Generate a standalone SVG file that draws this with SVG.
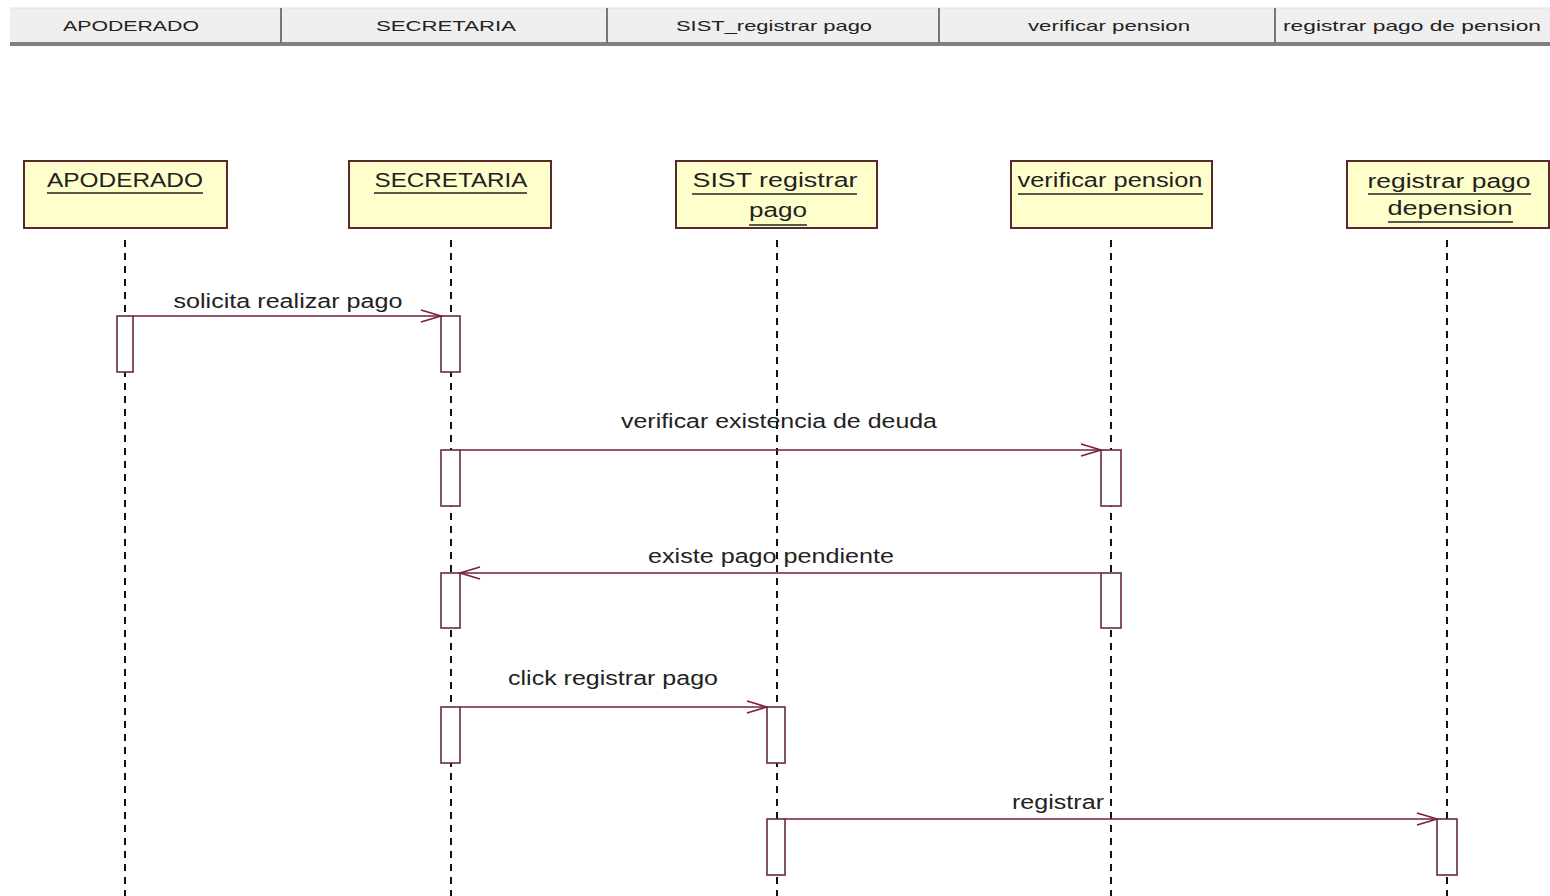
<svg xmlns="http://www.w3.org/2000/svg" width="1550" height="896" viewBox="0 0 1550 896">
<style>
.hdr{font-family:"Liberation Sans",Arial,sans-serif;font-size:15px;fill:#222;text-anchor:middle}
.obj{fill:#ffffcc;stroke:#5a2a2a;stroke-width:2}
.olbl{font-family:"Liberation Sans",Arial,sans-serif;font-size:20px;fill:#222;text-anchor:middle}
.ul{stroke:#222;stroke-width:1.5}
.life{stroke:#111;stroke-width:2;stroke-dasharray:7,6}
.act{fill:#fff;stroke:#6a2a3a;stroke-width:1.6}
.msg{stroke:#7a1f3f;stroke-width:1.6;fill:none}
.mlbl{font-family:"Liberation Sans",Arial,sans-serif;font-size:20px;fill:#222;text-anchor:middle}
</style>
<defs>
<marker id="open" markerWidth="24" markerHeight="16" refX="22" refY="8" orient="auto" markerUnits="userSpaceOnUse">
<path d="M2,2 L22,8 L2,14" fill="none" stroke="#7a1f3f" stroke-width="1.5"/>
</marker>
</defs>
<rect width="1550" height="896" fill="#fff"/>
<g id="header">
<rect x="10" y="8" width="1540" height="36" fill="#efefef"/>
<line x1="10" y1="44" x2="1550" y2="44" stroke="#808080" stroke-width="4"/>
<line x1="10" y1="8" x2="1550" y2="8" stroke="#e0e0e0" stroke-width="1"/>
<line x1="281" y1="8" x2="281" y2="44" stroke="#777" stroke-width="2"/>
<line x1="607" y1="8" x2="607" y2="44" stroke="#777" stroke-width="2"/>
<line x1="939" y1="8" x2="939" y2="44" stroke="#777" stroke-width="2"/>
<line x1="1275" y1="8" x2="1275" y2="44" stroke="#777" stroke-width="2"/>
<text class="hdr" x="131" y="31" textLength="136" lengthAdjust="spacingAndGlyphs">APODERADO</text>
<text class="hdr" x="446" y="31" textLength="140" lengthAdjust="spacingAndGlyphs">SECRETARIA</text>
<text class="hdr" x="774" y="31" textLength="196" lengthAdjust="spacingAndGlyphs">SIST_registrar pago</text>
<text class="hdr" x="1109" y="31" textLength="162" lengthAdjust="spacingAndGlyphs">verificar pension</text>
<text class="hdr" x="1412" y="31" textLength="258" lengthAdjust="spacingAndGlyphs">registrar pago de pension</text>
</g>
<g id="lifelines">
<line class="life" x1="125" y1="240" x2="125" y2="896"/>
<line class="life" x1="451" y1="240" x2="451" y2="896"/>
<line class="life" x1="777" y1="240" x2="777" y2="896"/>
<line class="life" x1="1111" y1="240" x2="1111" y2="896"/>
<line class="life" x1="1447" y1="240" x2="1447" y2="896"/>
</g>
<g id="apoderado">
<rect class="obj" x="24" y="161" width="203" height="67"/>
<text class="olbl" x="125" y="187" textLength="156" lengthAdjust="spacingAndGlyphs">APODERADO</text>
<line class="ul" x1="47" y1="193" x2="203" y2="193"/>
</g>
<g id="secretaria">
<rect class="obj" x="349" y="161" width="202" height="67"/>
<text class="olbl" x="451" y="187" textLength="153" lengthAdjust="spacingAndGlyphs">SECRETARIA</text>
<line class="ul" x1="374" y1="193" x2="527" y2="193"/>
</g>
<g id="sist_registrar">
<rect class="obj" x="676" y="161" width="201" height="67"/>
<text class="olbl" x="775" y="187" textLength="165" lengthAdjust="spacingAndGlyphs">SIST  registrar</text>
<line class="ul" x1="692" y1="194" x2="857" y2="194"/>
<text class="olbl" x="778" y="217" textLength="58" lengthAdjust="spacingAndGlyphs">pago</text>
<line class="ul" x1="749" y1="225" x2="807" y2="225"/>
</g>
<g id="verificar_pension">
<rect class="obj" x="1011" y="161" width="201" height="67"/>
<text class="olbl" x="1110" y="187" textLength="185" lengthAdjust="spacingAndGlyphs">verificar pension</text>
<line class="ul" x1="1018" y1="194" x2="1203" y2="194"/>
</g>
<g id="registrar_pago_pension">
<rect class="obj" x="1347" y="161" width="202" height="67"/>
<text class="olbl" x="1449" y="188" textLength="163" lengthAdjust="spacingAndGlyphs">registrar pago</text>
<line class="ul" x1="1368" y1="194" x2="1531" y2="194"/>
<text class="olbl" x="1450" y="215" textLength="125" lengthAdjust="spacingAndGlyphs">depension</text>
<line class="ul" x1="1388" y1="222" x2="1513" y2="222"/>
</g>
<g id="activations">
<rect class="act" x="117" y="316" width="16" height="56"/>
<rect class="act" x="441" y="316" width="19" height="56"/>
<rect class="act" x="441" y="450" width="19" height="56"/>
<rect class="act" x="1101" y="450" width="20" height="56"/>
<rect class="act" x="441" y="573" width="19" height="55"/>
<rect class="act" x="1101" y="573" width="20" height="55"/>
<rect class="act" x="441" y="707" width="19" height="56"/>
<rect class="act" x="767" y="707" width="18" height="56"/>
<rect class="act" x="767" y="819" width="18" height="56"/>
<rect class="act" x="1437" y="819" width="20" height="56"/>
</g>
<g id="connectors">
<line class="msg" x1="133" y1="316" x2="441" y2="316" marker-end="url(#open)"/>
<line class="msg" x1="460" y1="450" x2="1101" y2="450" marker-end="url(#open)"/>
<line class="msg" x1="1101" y1="573" x2="460" y2="573" marker-end="url(#open)"/>
<line class="msg" x1="460" y1="707" x2="767" y2="707" marker-end="url(#open)"/>
<line class="msg" x1="785" y1="819" x2="1437" y2="819" marker-end="url(#open)"/>
<text class="mlbl" x="288" y="308" textLength="229" lengthAdjust="spacingAndGlyphs">solicita realizar pago</text>
<text class="mlbl" x="779" y="428" textLength="316" lengthAdjust="spacingAndGlyphs">verificar existencia de deuda</text>
<text class="mlbl" x="771" y="563" textLength="246" lengthAdjust="spacingAndGlyphs">existe pago pendiente</text>
<text class="mlbl" x="613" y="685" textLength="210" lengthAdjust="spacingAndGlyphs">click registrar pago</text>
<text class="mlbl" x="1058" y="809" textLength="92" lengthAdjust="spacingAndGlyphs">registrar</text>
</g>
</svg>
